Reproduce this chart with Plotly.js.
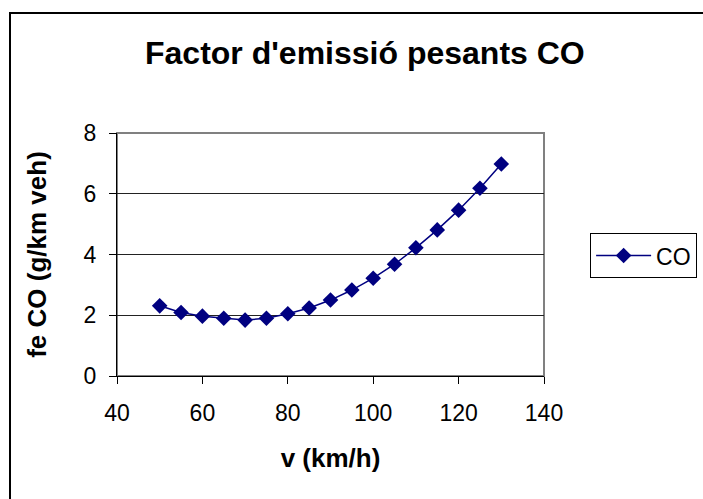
<!DOCTYPE html>
<html>
<head>
<meta charset="utf-8">
<script src="https://cdn.plot.ly/plotly-3.0.1.min.js"></script>
<style>
  html, body { margin: 0; padding: 0; background: #fff; }
  #wrap { position: relative; width: 703px; height: 499px; overflow: hidden; }
  #chart { position: absolute; left: 0; top: 0; width: 703px; height: 499px; }
  #frame { position: absolute; left: 9px; top: 12px; width: 710px; height: 500px; border: 2px solid #000; pointer-events: none; }
</style>
</head>
<body>
<div id="wrap">
  <div id="chart"></div>
  <div id="frame"></div>
</div>
<script>
const speeds = [50, 55, 60, 65, 70, 75, 80, 85, 90, 95, 100, 105, 110, 115, 120, 125, 130];
const coValues = [2.31, 2.09, 1.97, 1.90, 1.84, 1.90, 2.05, 2.24, 2.50, 2.83, 3.22, 3.68, 4.22, 4.81, 5.46, 6.18, 6.98];
const seriesName = 'CO';
const chartTitle = "Factor d'emissió pesants CO";
const xTitle = 'v (km/h)';
const yTitle = 'fe CO (g/km veh)';
const xTicks = [40, 60, 80, 100, 120, 140];
const yTicks = [0, 2, 4, 6, 8];

const font = 'Arial, "Liberation Sans", sans-serif';

const trace = {
  x: speeds,
  y: coValues,
  name: seriesName,
  type: 'scatter',
  mode: 'lines+markers',
  line: { color: '#000080', width: 1.5 },
  marker: { symbol: 'diamond', size: 12, color: '#000080' }
};

const layout = {
  width: 703,
  height: 499,
  margin: { l: 117, r: 159, t: 133, b: 123, autoexpand: false },
  paper_bgcolor: 'rgba(0,0,0,0)',
  plot_bgcolor: '#ffffff',
  font: { family: font, color: '#000' },
  title: {
    text: '<b>' + chartTitle + '</b>',
    font: { family: font, size: 32, color: '#000' },
    x: 0.519, xanchor: 'center', xref: 'container',
    y: 0.895, yanchor: 'middle'
  },
  showlegend: true,
  legend: {
    x: 1.108, xanchor: 'left',
    y: 0.588, yanchor: 'top',
    bordercolor: '#000', borderwidth: 1,
    bgcolor: '#fff',
    itemwidth: 55,
    font: { family: font, size: 23, color: '#000' }
  },
  xaxis: {
    range: [40, 140],
    tickvals: xTicks,
    ticktext: xTicks.map(String),
    ticks: 'outside', ticklen: 7, tickcolor: '#000', tickwidth: 1,
    showline: true, linecolor: '#000', linewidth: 1,
    showgrid: false, zeroline: false,
    tickfont: { family: font, size: 23, color: '#000' },
    ticklabelstandoff: 9,
    title: { text: '<b>' + xTitle + '</b>', font: { family: font, size: 26, color: '#000' }, standoff: 24 }
  },
  yaxis: {
    range: [0, 8],
    tickvals: yTicks,
    ticktext: yTicks.map(String),
    ticks: 'outside', ticklen: 7, tickcolor: '#000', tickwidth: 1,
    showline: true, linecolor: '#000', linewidth: 1,
    showgrid: true, gridcolor: '#222', gridwidth: 1,
    zeroline: false,
    tickfont: { family: font, size: 23, color: '#000' },
    ticklabelstandoff: 8,
    title: { text: '<b>' + yTitle + '</b>', font: { family: font, size: 26, color: '#000' }, standoff: 29 }
  },
  shapes: [
    { type: 'rect', xref: 'paper', yref: 'paper', x0: 0, x1: 1, y0: 0, y1: 1,
      line: { color: '#808080', width: 2 }, layer: 'below' }
  ]
};

Plotly.newPlot('chart', [trace], layout, { displayModeBar: false, staticPlot: true });
</script>
</body>
</html>
